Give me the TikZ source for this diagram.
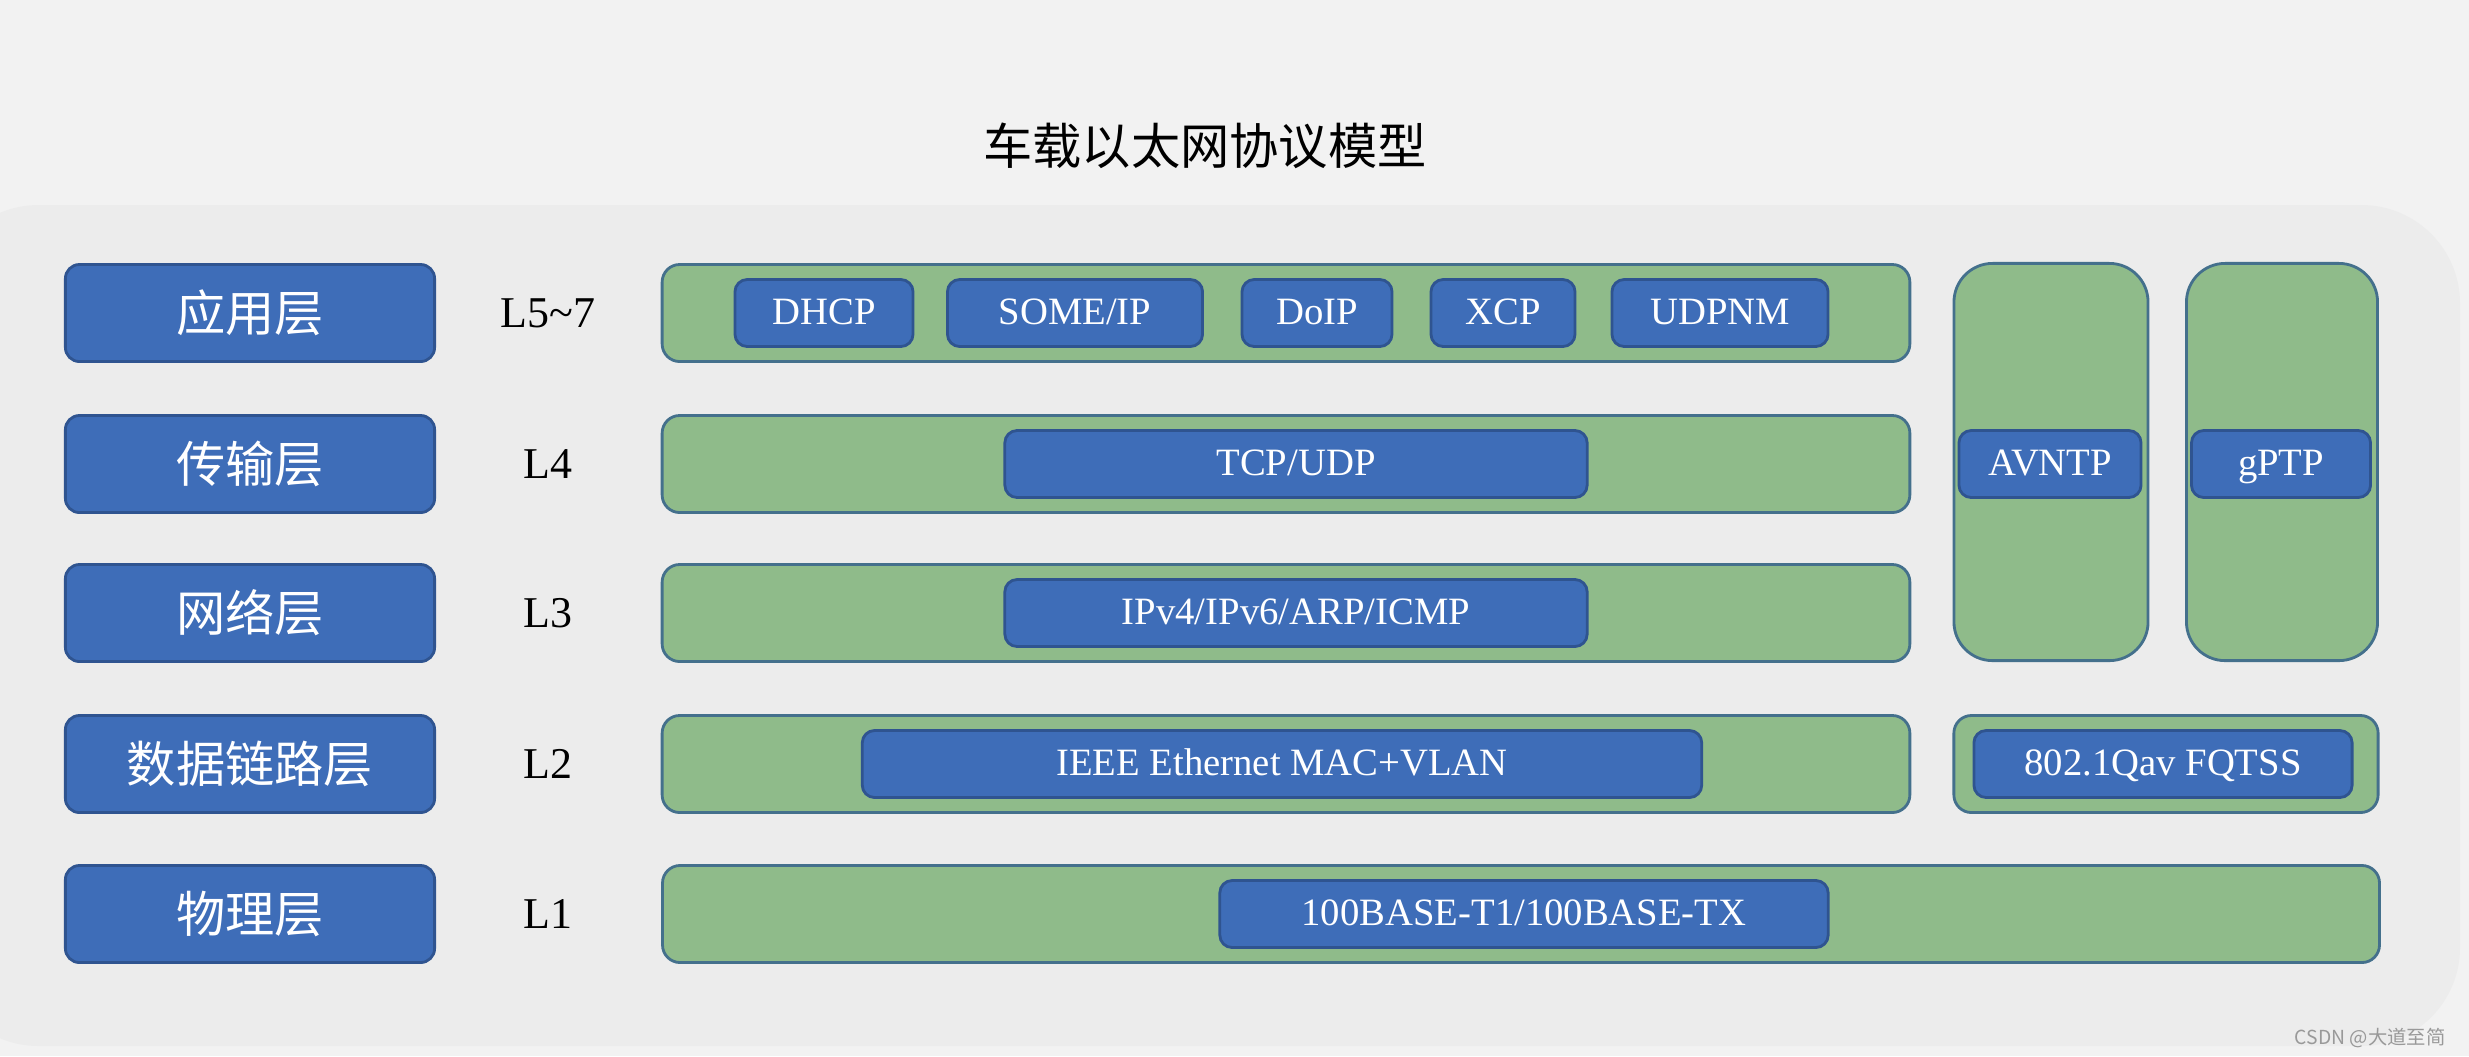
\documentclass[tikz,border=0pt]{standalone}
\usepackage{fontspec}
\setmainfont{Liberation Serif}
\newfontfamily\cjk{Noto Sans CJK SC}
\usepackage{tikz}
\usetikzlibrary{positioning}
\definecolor{layerblue}{HTML}{3E6DB8}
\definecolor{blueedge}{HTML}{2F5490}
\definecolor{rowgreen}{HTML}{8FBB8A}
\definecolor{greenedge}{HTML}{44708C}
\definecolor{bgout}{HTML}{F2F2F2}
\definecolor{bgpanel}{HTML}{ECECEC}

\begin{document}
\begin{tikzpicture}[x=0.01cm, y=-0.01cm,
    layer/.style={draw=blueedge, line width=0.8pt, fill=layerblue, rounded corners=4pt,
      minimum width=3.69cm, minimum height=0.97cm, text=white,
      font=\cjk\fontsize{14pt}{16pt}\selectfont},
    lvl/.style={font=\fontsize{12.5pt}{14pt}\selectfont},
    row/.style={draw=greenedge, line width=0.8pt, fill=rowgreen, rounded corners=5pt,
      minimum height=0.97cm},
    col/.style={draw=greenedge, line width=0.8pt, fill=rowgreen, rounded corners=11pt},
    proto/.style={draw=blueedge, line width=0.8pt, fill=layerblue, rounded corners=3.5pt,
      minimum height=0.67cm, text=white, inner sep=0pt,
      text height=0.8em, text depth=0.14em,
      font=\fontsize{11pt}{13pt}\selectfont}]
  \useasboundingbox (0,0) rectangle (2469,1056);
  % ---- background ----
  \fill[bgout] (0,0) rectangle (2469,1056);
  \fill[bgpanel, rounded corners=28pt] (-60,205) rectangle (2460,1046);
  \node[font=\cjk\fontsize{14pt}{16pt}\selectfont] (title) at (1205,146) {车载以太网协议模型};
  % ---- layer names and levels ----
  \node[layer] (app)  at (250,313) {应用层};
  \node[layer] (tran) at (250,464) {传输层};
  \node[layer] (net)  at (250,613) {网络层};
  \node[layer] (link) at (250,764) {数据链路层};
  \node[layer] (phy)  at (250,914) {物理层};
  \node[lvl] (l57) at (548,313) {L5\char`~7};
  \node[lvl] (l4)  at (548,464) {L4};
  \node[lvl] (l3)  at (548,613) {L3};
  \node[lvl] (l2)  at (548,764) {L2};
  \node[lvl] (l1)  at (548,914) {L1};
  % ---- protocol rows ----
  \node[row, minimum width=12.47cm] (rapp)  at (1286,313) {};
  \node[row, minimum width=12.47cm] (rtran) at (1286,464) {};
  \node[row, minimum width=12.47cm] (rnet)  at (1286,613) {};
  \node[row, minimum width=12.47cm] (rlink) at (1286,764) {};
  \node[row, minimum width=17.16cm] (rphy)  at (1521,914) {};
  \node[proto, minimum width=1.78cm] (dhcp)  at (824,313)  {DHCP};
  \node[proto, minimum width=2.55cm] (someip) at (1075,313) {SOME/IP};
  \node[proto, minimum width=1.50cm] (doip)  at (1317,313) {DoIP};
  \node[proto, minimum width=1.44cm] (xcp)   at (1503,313) {XCP};
  \node[proto, minimum width=2.16cm] (udpnm) at (1720,313) {UDPNM};
  \node[proto, minimum width=5.82cm] (tcp)   at (1296,464) {TCP/UDP};
  \node[proto, minimum width=5.82cm] (ip)    at (1296,613) {IPv4/IPv6/ARP/ICMP};
  \node[proto, minimum width=8.39cm] (mac)   at (1282,764) {IEEE Ethernet MAC+VLAN};
  \node[proto, minimum width=6.08cm] (base)  at (1524,914) {100BASE-T1/100BASE-TX};
  % ---- AVB columns ----
  \node[col, minimum width=1.94cm, minimum height=3.97cm] (cavb) at (2051,462) {};
  \node[col, minimum width=1.91cm, minimum height=3.97cm] (cptp) at (2282,462) {};
  \node[proto, minimum width=1.82cm] (avntp) at (2050,464) {AVNTP};
  \node[proto, minimum width=1.79cm] (gptp)  at (2281,464) {gPTP};
  \node[row, minimum width=4.24cm] (rqav) at (2166,764) {};
  \node[proto, minimum width=3.78cm] (qav) at (2163,764) {802.1Qav FQTSS};
  % ---- watermark ----
  \node[anchor=east, text=gray!80, font=\cjk\fontsize{5.5pt}{6pt}\selectfont] (mark) at (2458,1038) {CSDN @大道至简};
\end{tikzpicture}
\end{document}
